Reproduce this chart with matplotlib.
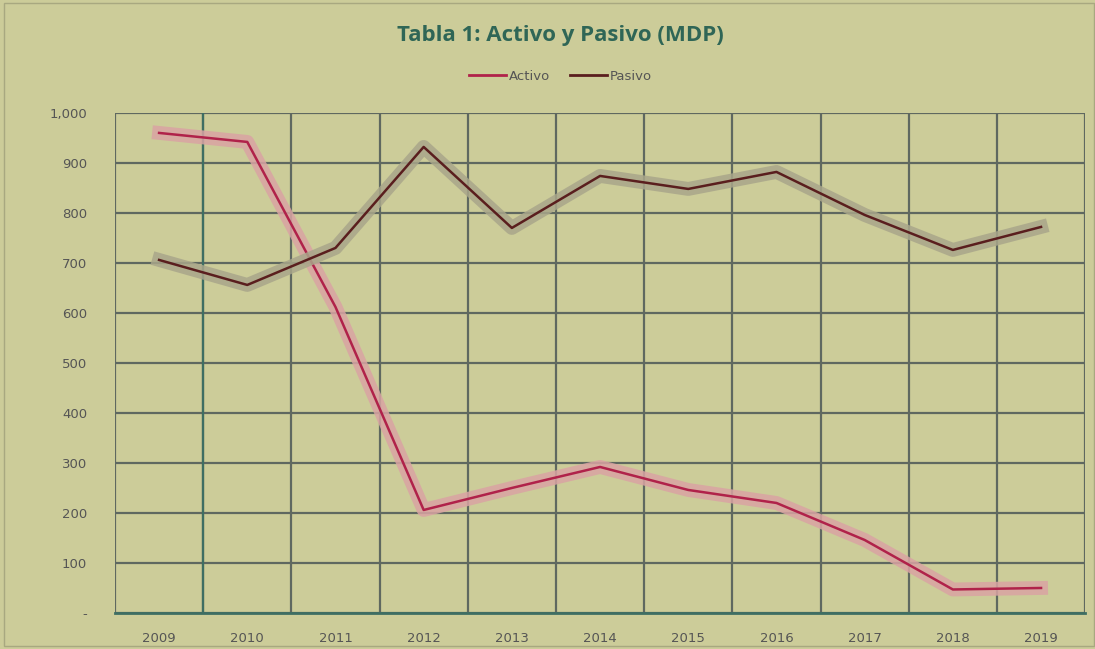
import numpy as np
import matplotlib.pyplot as plt
import matplotlib.patheffects as pe
from matplotlib.lines import Line2D
from matplotlib.ticker import FuncFormatter, MultipleLocator

# Datos (MDP)
anios = ["2009", "2010", "2011", "2012", "2013", "2014", "2015", "2016", "2017", "2018", "2019"]
activo = [960, 942, 612, 206, 250, 292, 246, 220, 146, 47, 50]
pasivo = [706, 656, 730, 932, 770, 874, 848, 882, 796, 726, 772]

FONDO = "#CCCC99"
GRIS = "#5F6860"
C_ACT = "#B0224A"
C_PAS = "#5A1E1E"

fig = plt.figure(figsize=(10.95, 6.49), dpi=100, facecolor=FONDO)
ax = fig.add_axes([0.105, 0.0555, 0.886, 0.7705])
ax.set_facecolor(FONDO)

x = np.arange(len(anios))

ax.plot(x, activo, color=C_ACT, lw=1.8, zorder=4,
        path_effects=[pe.Stroke(linewidth=10, foreground="#D9A3A3", alpha=0.85), pe.Normal()])
ax.plot(x, pasivo, color=C_PAS, lw=1.8, zorder=4,
        path_effects=[pe.Stroke(linewidth=10, foreground="#A9A68A", alpha=0.85), pe.Normal()])

ax.set_xlim(-0.5, len(anios) - 0.5)
ax.set_ylim(0, 1000)
ax.yaxis.set_major_locator(MultipleLocator(100))
ax.yaxis.set_major_formatter(FuncFormatter(lambda v, p: "-" if v == 0 else f"{int(v):,}"))
ax.set_xticks(x)
ax.set_xticklabels(anios)
ax.set_xticks(np.arange(-0.5, len(anios), 1), minor=True)

ax.grid(axis="y", which="major", color=GRIS, lw=1.6)
ax.grid(axis="x", which="minor", color=GRIS, lw=1.6)
ax.tick_params(axis="both", which="both", length=0, colors="#555555", labelsize=9.5)
ax.tick_params(axis="x", pad=14)
ax.tick_params(axis="y", pad=20)

for lado in ["top", "right", "left"]:
    ax.spines[lado].set_visible(False)
ax.spines["bottom"].set_color("#3E6E63")
ax.spines["bottom"].set_linewidth(2)
ax.axvline(0.5, color="#3E6E63", lw=1.6, zorder=2)

fig.text(0.512, 0.945, "Tabla 1: Activo y Pasivo (MDP)", ha="center", va="center",
         fontsize=16, fontweight="bold", color="#2F6656", family="Open Sans")

handles = [Line2D([], [], color=C_ACT, lw=2), Line2D([], [], color=C_PAS, lw=2)]
fig.legend(handles, ["Activo", "Pasivo"], loc="center", bbox_to_anchor=(0.512, 0.882),
           ncol=2, frameon=False, fontsize=9.5, handlelength=2.8, columnspacing=1.5,
           handletextpad=0.2, labelcolor="#555555")

fig.patches.append(plt.Rectangle((0.004, 0.005), 0.995, 0.99, transform=fig.transFigure,
                                 fill=False, edgecolor="#A8A880", lw=1))

fig.savefig("out.png", dpi=100, facecolor=FONDO)
